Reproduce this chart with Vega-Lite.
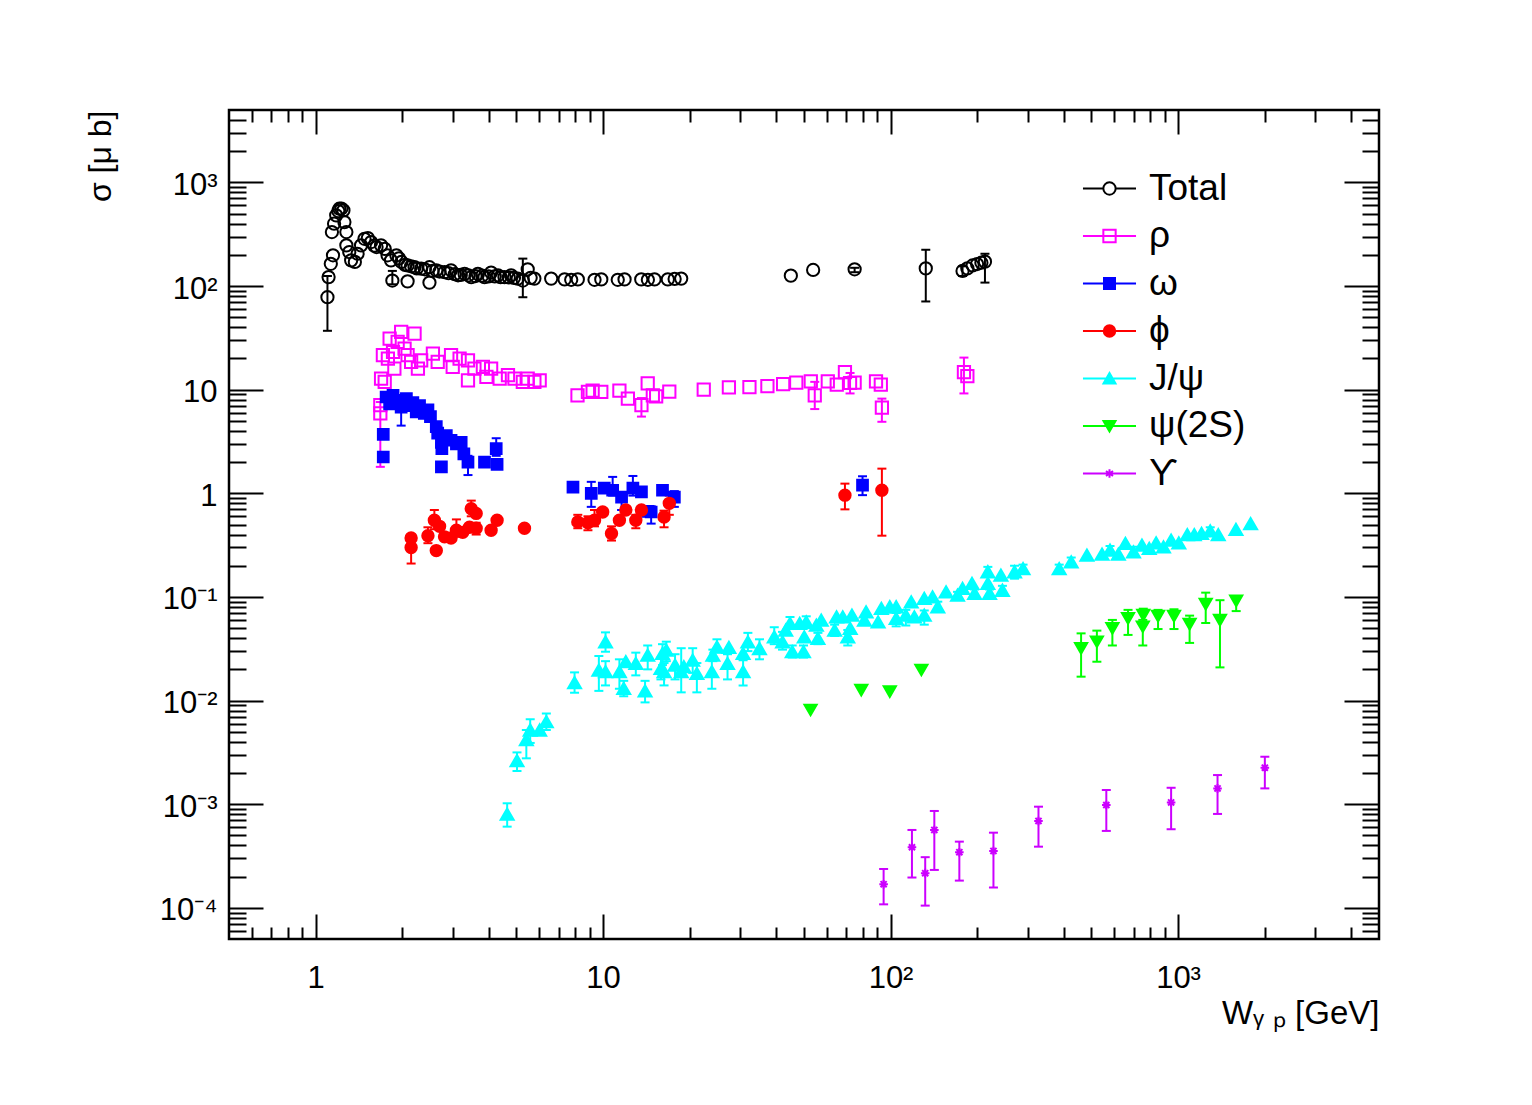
{
  "$schema": "https://vega.github.io/schema/vega-lite/v6.json",
  "width": 1150,
  "height": 829,
  "autosize": {"type": "none"},
  "padding": {"left": 229, "top": 110, "right": 153, "bottom": 166},
  "background": "white",
  "config": {
    "view": {"stroke": "black", "strokeWidth": 2.5},
    "font": "Liberation Sans",
    "axis": {
      "grid": false,
      "domain": false,
      "tickColor": "black",
      "tickWidth": 2,
      "labelColor": "black",
      "titleColor": "black",
      "labelFont": "Liberation Sans",
      "titleFont": "Liberation Sans",
      "titleFontWeight": "normal",
      "labelFlush": false,
      "labelOverlap": false
    }
  },
  "datasets": {
    "pts": [
      {"s": "Total", "w": 1.10, "v": 78, "lo": 37, "hi": 125},
      {"s": "Total", "w": 1.11, "v": 122},
      {"s": "Total", "w": 1.13, "v": 164},
      {"s": "Total", "w": 1.15, "v": 198},
      {"s": "Total", "w": 1.14, "v": 332},
      {"s": "Total", "w": 1.16, "v": 400},
      {"s": "Total", "w": 1.18, "v": 481},
      {"s": "Total", "w": 1.20, "v": 530},
      {"s": "Total", "w": 1.21, "v": 558},
      {"s": "Total", "w": 1.23, "v": 560},
      {"s": "Total", "w": 1.25, "v": 537},
      {"s": "Total", "w": 1.26, "v": 414},
      {"s": "Total", "w": 1.28, "v": 332},
      {"s": "Total", "w": 1.28, "v": 247},
      {"s": "Total", "w": 1.31, "v": 213},
      {"s": "Total", "w": 1.33, "v": 177},
      {"s": "Total", "w": 1.37, "v": 171},
      {"s": "Total", "w": 1.40, "v": 205},
      {"s": "Total", "w": 1.44, "v": 247},
      {"s": "Total", "w": 1.48, "v": 286},
      {"s": "Total", "w": 1.52, "v": 290},
      {"s": "Total", "w": 1.56, "v": 266},
      {"s": "Total", "w": 1.60, "v": 245},
      {"s": "Total", "w": 1.63, "v": 238},
      {"s": "Total", "w": 1.69, "v": 247},
      {"s": "Total", "w": 1.74, "v": 229},
      {"s": "Total", "w": 1.78, "v": 198},
      {"s": "Total", "w": 1.83, "v": 177},
      {"s": "Total", "w": 1.85, "v": 113, "lo": 104, "hi": 140},
      {"s": "Total", "w": 1.91, "v": 198},
      {"s": "Total", "w": 1.95, "v": 185},
      {"s": "Total", "w": 1.99, "v": 171},
      {"s": "Total", "w": 2.05, "v": 160},
      {"s": "Total", "w": 2.09, "v": 111},
      {"s": "Total", "w": 2.09, "v": 158},
      {"s": "Total", "w": 2.15, "v": 155},
      {"s": "Total", "w": 2.21, "v": 152},
      {"s": "Total", "w": 2.25, "v": 148},
      {"s": "Total", "w": 2.33, "v": 147},
      {"s": "Total", "w": 2.40, "v": 145},
      {"s": "Total", "w": 2.49, "v": 108},
      {"s": "Total", "w": 2.49, "v": 152},
      {"s": "Total", "w": 2.55, "v": 140},
      {"s": "Total", "w": 2.63, "v": 142},
      {"s": "Total", "w": 2.70, "v": 138},
      {"s": "Total", "w": 2.81, "v": 136},
      {"s": "Total", "w": 2.90, "v": 133},
      {"s": "Total", "w": 2.96, "v": 142},
      {"s": "Total", "w": 3.05, "v": 130},
      {"s": "Total", "w": 3.13, "v": 127},
      {"s": "Total", "w": 3.20, "v": 128},
      {"s": "Total", "w": 3.30, "v": 131},
      {"s": "Total", "w": 3.40, "v": 127},
      {"s": "Total", "w": 3.48, "v": 122},
      {"s": "Total", "w": 3.60, "v": 125},
      {"s": "Total", "w": 3.67, "v": 131},
      {"s": "Total", "w": 3.80, "v": 126},
      {"s": "Total", "w": 3.87, "v": 122},
      {"s": "Total", "w": 4.00, "v": 124},
      {"s": "Total", "w": 4.08, "v": 135},
      {"s": "Total", "w": 4.20, "v": 124},
      {"s": "Total", "w": 4.31, "v": 127},
      {"s": "Total", "w": 4.40, "v": 122},
      {"s": "Total", "w": 4.54, "v": 122},
      {"s": "Total", "w": 4.70, "v": 121},
      {"s": "Total", "w": 4.79, "v": 127},
      {"s": "Total", "w": 4.90, "v": 120},
      {"s": "Total", "w": 5.05, "v": 118},
      {"s": "Total", "w": 5.26, "v": 113, "lo": 78, "hi": 184},
      {"s": "Total", "w": 5.47, "v": 145},
      {"s": "Total", "w": 5.60, "v": 120},
      {"s": "Total", "w": 5.77, "v": 118},
      {"s": "Total", "w": 6.60, "v": 118},
      {"s": "Total", "w": 7.35, "v": 116},
      {"s": "Total", "w": 7.75, "v": 115},
      {"s": "Total", "w": 8.17, "v": 116},
      {"s": "Total", "w": 9.34, "v": 115},
      {"s": "Total", "w": 9.86, "v": 116},
      {"s": "Total", "w": 11.25, "v": 115},
      {"s": "Total", "w": 11.88, "v": 116},
      {"s": "Total", "w": 13.58, "v": 116},
      {"s": "Total", "w": 14.32, "v": 115},
      {"s": "Total", "w": 15.1, "v": 116},
      {"s": "Total", "w": 16.8, "v": 116},
      {"s": "Total", "w": 17.74, "v": 117},
      {"s": "Total", "w": 18.7, "v": 118},
      {"s": "Total", "w": 45.0, "v": 126},
      {"s": "Total", "w": 53.8, "v": 143},
      {"s": "Total", "w": 75.0, "v": 145, "lo": 136, "hi": 150},
      {"s": "Total", "w": 132.6, "v": 148, "lo": 71, "hi": 224},
      {"s": "Total", "w": 178, "v": 140, "lo": 125, "hi": 155},
      {"s": "Total", "w": 185, "v": 148},
      {"s": "Total", "w": 193, "v": 158},
      {"s": "Total", "w": 200, "v": 163},
      {"s": "Total", "w": 207, "v": 168},
      {"s": "Total", "w": 213, "v": 172, "lo": 108, "hi": 205},

      {"s": "ρ", "w": 1.68, "v": 7.1},
      {"s": "ρ", "w": 1.68, "v": 5.9, "lo": 1.8, "hi": 7.6},
      {"s": "ρ", "w": 1.69, "v": 12.8},
      {"s": "ρ", "w": 1.74, "v": 11.9},
      {"s": "ρ", "w": 1.715, "v": 21.5},
      {"s": "ρ", "w": 1.785, "v": 19.9},
      {"s": "ρ", "w": 1.81, "v": 31.1},
      {"s": "ρ", "w": 1.86, "v": 23.1},
      {"s": "ρ", "w": 1.88, "v": 16.0},
      {"s": "ρ", "w": 1.93, "v": 28.9},
      {"s": "ρ", "w": 1.985, "v": 36.1},
      {"s": "ρ", "w": 2.04, "v": 24.9},
      {"s": "ρ", "w": 2.09, "v": 21.5},
      {"s": "ρ", "w": 2.21, "v": 34.7},
      {"s": "ρ", "w": 2.15, "v": 18.5},
      {"s": "ρ", "w": 2.27, "v": 16.0},
      {"s": "ρ", "w": 2.33, "v": 19.2},
      {"s": "ρ", "w": 2.56, "v": 22.3},
      {"s": "ρ", "w": 2.66, "v": 18.5},
      {"s": "ρ", "w": 2.96, "v": 21.5},
      {"s": "ρ", "w": 3.00, "v": 16.6},
      {"s": "ρ", "w": 3.17, "v": 19.9},
      {"s": "ρ", "w": 3.39, "v": 19.2},
      {"s": "ρ", "w": 3.39, "v": 12.3},
      {"s": "ρ", "w": 3.57, "v": 16.0},
      {"s": "ρ", "w": 3.82, "v": 16.6},
      {"s": "ρ", "w": 3.93, "v": 13.3},
      {"s": "ρ", "w": 4.08, "v": 16.0},
      {"s": "ρ", "w": 4.37, "v": 12.8},
      {"s": "ρ", "w": 4.67, "v": 13.8},
      {"s": "ρ", "w": 4.92, "v": 12.8},
      {"s": "ρ", "w": 5.26, "v": 11.9},
      {"s": "ρ", "w": 5.47, "v": 12.8},
      {"s": "ρ", "w": 5.77, "v": 11.9},
      {"s": "ρ", "w": 6.02, "v": 12.3},
      {"s": "ρ", "w": 8.15, "v": 8.8},
      {"s": "ρ", "w": 8.86, "v": 9.5},
      {"s": "ρ", "w": 9.2, "v": 9.8},
      {"s": "ρ", "w": 9.86, "v": 9.5},
      {"s": "ρ", "w": 11.4, "v": 9.8},
      {"s": "ρ", "w": 12.2, "v": 8.2},
      {"s": "ρ", "w": 13.6, "v": 7.1, "lo": 5.5, "hi": 8.3},
      {"s": "ρ", "w": 14.3, "v": 11.5},
      {"s": "ρ", "w": 14.9, "v": 8.8},
      {"s": "ρ", "w": 15.3, "v": 8.6},
      {"s": "ρ", "w": 17.0, "v": 9.6},
      {"s": "ρ", "w": 22.4, "v": 10.0},
      {"s": "ρ", "w": 27.4, "v": 10.5},
      {"s": "ρ", "w": 32.3, "v": 10.6},
      {"s": "ρ", "w": 37.3, "v": 10.8},
      {"s": "ρ", "w": 42.3, "v": 11.3},
      {"s": "ρ", "w": 47.0, "v": 11.7},
      {"s": "ρ", "w": 52.8, "v": 12.0},
      {"s": "ρ", "w": 54.5, "v": 8.8, "lo": 6.5, "hi": 11.9},
      {"s": "ρ", "w": 60.5, "v": 12.0},
      {"s": "ρ", "w": 65, "v": 11.2},
      {"s": "ρ", "w": 69.4, "v": 14.8},
      {"s": "ρ", "w": 72.3, "v": 11.6, "lo": 9.2, "hi": 14.5},
      {"s": "ρ", "w": 75, "v": 11.7},
      {"s": "ρ", "w": 89, "v": 12.0},
      {"s": "ρ", "w": 92.5, "v": 11.2},
      {"s": "ρ", "w": 93.3, "v": 6.7, "lo": 4.9, "hi": 8.2},
      {"s": "ρ", "w": 180, "v": 14.8, "lo": 9.2, "hi": 20.4},
      {"s": "ρ", "w": 185, "v": 13.5},

      {"s": "ω", "w": 1.72, "v": 2.24},
      {"s": "ω", "w": 1.72, "v": 3.7},
      {"s": "ω", "w": 1.76, "v": 8.5},
      {"s": "ω", "w": 1.81, "v": 7.3},
      {"s": "ω", "w": 1.86, "v": 8.8},
      {"s": "ω", "w": 1.91, "v": 7.9},
      {"s": "ω", "w": 1.985, "v": 6.8, "lo": 4.5, "hi": 7.6},
      {"s": "ω", "w": 2.07, "v": 8.2, "lo": 7.4, "hi": 9.0},
      {"s": "ω", "w": 2.12, "v": 7.0},
      {"s": "ω", "w": 2.18, "v": 7.5},
      {"s": "ω", "w": 2.24, "v": 6.1},
      {"s": "ω", "w": 2.30, "v": 7.0},
      {"s": "ω", "w": 2.39, "v": 5.9},
      {"s": "ω", "w": 2.46, "v": 6.4},
      {"s": "ω", "w": 2.51, "v": 5.5},
      {"s": "ω", "w": 2.63, "v": 4.4},
      {"s": "ω", "w": 2.66, "v": 3.8},
      {"s": "ω", "w": 2.74, "v": 3.1},
      {"s": "ω", "w": 2.75, "v": 2.7},
      {"s": "ω", "w": 2.74, "v": 1.8},
      {"s": "ω", "w": 2.85, "v": 3.6},
      {"s": "ω", "w": 2.96, "v": 3.25},
      {"s": "ω", "w": 3.09, "v": 3.0},
      {"s": "ω", "w": 3.21, "v": 3.1},
      {"s": "ω", "w": 3.28, "v": 2.4},
      {"s": "ω", "w": 3.39, "v": 2.0, "lo": 1.5, "hi": 2.3},
      {"s": "ω", "w": 3.87, "v": 2.0},
      {"s": "ω", "w": 4.25, "v": 2.7, "lo": 2.3, "hi": 3.4},
      {"s": "ω", "w": 4.28, "v": 1.9},
      {"s": "ω", "w": 7.86, "v": 1.15},
      {"s": "ω", "w": 9.1, "v": 1.0, "lo": 0.74, "hi": 1.29},
      {"s": "ω", "w": 10.1, "v": 1.12},
      {"s": "ω", "w": 10.8, "v": 1.07, "lo": 0.95, "hi": 1.44},
      {"s": "ω", "w": 11.6, "v": 0.92, "lo": 0.69, "hi": 1.0},
      {"s": "ω", "w": 12.7, "v": 1.12, "lo": 0.95, "hi": 1.47},
      {"s": "ω", "w": 13.6, "v": 1.03},
      {"s": "ω", "w": 14.3, "v": 0.67},
      {"s": "ω", "w": 14.7, "v": 0.66, "lo": 0.51, "hi": 0.75},
      {"s": "ω", "w": 16.1, "v": 1.07},
      {"s": "ω", "w": 17.7, "v": 0.92, "lo": 0.74, "hi": 1.05},
      {"s": "ω", "w": 79.9, "v": 1.2, "lo": 0.96, "hi": 1.46},

      {"s": "ϕ", "w": 2.15, "v": 0.37},
      {"s": "ϕ", "w": 2.15, "v": 0.30, "lo": 0.21, "hi": 0.35},
      {"s": "ϕ", "w": 2.46, "v": 0.39, "lo": 0.33, "hi": 0.47},
      {"s": "ϕ", "w": 2.59, "v": 0.55, "lo": 0.45, "hi": 0.69},
      {"s": "ϕ", "w": 2.63, "v": 0.28},
      {"s": "ϕ", "w": 2.70, "v": 0.48},
      {"s": "ϕ", "w": 2.81, "v": 0.38},
      {"s": "ϕ", "w": 2.96, "v": 0.37},
      {"s": "ϕ", "w": 3.09, "v": 0.44, "lo": 0.38, "hi": 0.56},
      {"s": "ϕ", "w": 3.25, "v": 0.42},
      {"s": "ϕ", "w": 3.43, "v": 0.47},
      {"s": "ϕ", "w": 3.48, "v": 0.71, "lo": 0.6, "hi": 0.85},
      {"s": "ϕ", "w": 3.62, "v": 0.64},
      {"s": "ϕ", "w": 3.62, "v": 0.46, "lo": 0.40, "hi": 0.52},
      {"s": "ϕ", "w": 4.08, "v": 0.44},
      {"s": "ϕ", "w": 4.28, "v": 0.55},
      {"s": "ϕ", "w": 5.33, "v": 0.46},
      {"s": "ϕ", "w": 8.17, "v": 0.53, "lo": 0.46, "hi": 0.62},
      {"s": "ϕ", "w": 8.86, "v": 0.52, "lo": 0.44, "hi": 0.60},
      {"s": "ϕ", "w": 9.34, "v": 0.55, "lo": 0.48, "hi": 0.69},
      {"s": "ϕ", "w": 9.97, "v": 0.66},
      {"s": "ϕ", "w": 10.7, "v": 0.41, "lo": 0.35, "hi": 0.48},
      {"s": "ϕ", "w": 11.4, "v": 0.55},
      {"s": "ϕ", "w": 12.0, "v": 0.69},
      {"s": "ϕ", "w": 13.0, "v": 0.55, "lo": 0.46, "hi": 0.62},
      {"s": "ϕ", "w": 13.6, "v": 0.69},
      {"s": "ϕ", "w": 16.3, "v": 0.59, "lo": 0.47, "hi": 0.68},
      {"s": "ϕ", "w": 17.0, "v": 0.80, "lo": 0.62, "hi": 0.95},
      {"s": "ϕ", "w": 69.4, "v": 0.96, "lo": 0.70, "hi": 1.24},
      {"s": "ϕ", "w": 93.3, "v": 1.07, "lo": 0.39, "hi": 1.73},

      {"s": "J/ψ", "w": 4.64, "v": 0.0008, "lo": 0.000607, "hi": 0.00102},
      {"s": "J/ψ", "w": 5.02, "v": 0.00263, "lo": 0.00209, "hi": 0.00316},
      {"s": "J/ψ", "w": 5.41, "v": 0.0042, "lo": 0.00277, "hi": 0.0052},
      {"s": "J/ψ", "w": 5.58, "v": 0.0052, "lo": 0.0039, "hi": 0.0066},
      {"s": "J/ψ", "w": 6.02, "v": 0.0052},
      {"s": "J/ψ", "w": 6.35, "v": 0.00625, "lo": 0.0052, "hi": 0.0075},
      {"s": "J/ψ", "w": 7.96, "v": 0.0149, "lo": 0.0119, "hi": 0.0187},
      {"s": "J/ψ", "w": 9.67, "v": 0.0197, "lo": 0.0124, "hi": 0.0269},
      {"s": "J/ψ", "w": 10.2, "v": 0.0369, "lo": 0.0296, "hi": 0.0455},
      {"s": "J/ψ", "w": 10.2, "v": 0.019, "lo": 0.014, "hi": 0.024},
      {"s": "J/ψ", "w": 11.4, "v": 0.019, "lo": 0.013, "hi": 0.025},
      {"s": "J/ψ", "w": 11.8, "v": 0.0131, "lo": 0.011, "hi": 0.0155},
      {"s": "J/ψ", "w": 12.0, "v": 0.0237},
      {"s": "J/ψ", "w": 13.0, "v": 0.0228, "lo": 0.0175, "hi": 0.029},
      {"s": "J/ψ", "w": 14.0, "v": 0.0124, "lo": 0.0096, "hi": 0.0155},
      {"s": "J/ψ", "w": 14.3, "v": 0.0275, "lo": 0.02, "hi": 0.034},
      {"s": "J/ψ", "w": 15.9, "v": 0.0204, "lo": 0.016, "hi": 0.026},
      {"s": "J/ψ", "w": 16.1, "v": 0.0285, "lo": 0.022, "hi": 0.035},
      {"s": "J/ψ", "w": 16.6, "v": 0.0307, "lo": 0.024, "hi": 0.037},
      {"s": "J/ψ", "w": 16.3, "v": 0.019, "lo": 0.014, "hi": 0.023},
      {"s": "J/ψ", "w": 17.8, "v": 0.022, "lo": 0.016, "hi": 0.028},
      {"s": "J/ψ", "w": 18.7, "v": 0.019, "lo": 0.012, "hi": 0.032},
      {"s": "J/ψ", "w": 19.1, "v": 0.0213},
      {"s": "J/ψ", "w": 20.5, "v": 0.0246, "lo": 0.0185, "hi": 0.032},
      {"s": "J/ψ", "w": 21.2, "v": 0.0183, "lo": 0.012, "hi": 0.023},
      {"s": "J/ψ", "w": 24.1, "v": 0.0275, "lo": 0.024, "hi": 0.031},
      {"s": "J/ψ", "w": 23.9, "v": 0.019, "lo": 0.013, "hi": 0.0245},
      {"s": "J/ψ", "w": 24.9, "v": 0.033, "lo": 0.029, "hi": 0.039},
      {"s": "J/ψ", "w": 27.1, "v": 0.0228, "lo": 0.016, "hi": 0.028},
      {"s": "J/ψ", "w": 27.4, "v": 0.0326},
      {"s": "J/ψ", "w": 30.7, "v": 0.019, "lo": 0.014, "hi": 0.0245},
      {"s": "J/ψ", "w": 30.7, "v": 0.0285},
      {"s": "J/ψ", "w": 31.9, "v": 0.0369, "lo": 0.03, "hi": 0.045},
      {"s": "J/ψ", "w": 35.0, "v": 0.0318, "lo": 0.025, "hi": 0.039},
      {"s": "J/ψ", "w": 39.4, "v": 0.0412, "lo": 0.035, "hi": 0.051},
      {"s": "J/ψ", "w": 42.1, "v": 0.0369, "lo": 0.031, "hi": 0.046},
      {"s": "J/ψ", "w": 43.2, "v": 0.0479},
      {"s": "J/ψ", "w": 45.5, "v": 0.0296, "lo": 0.026, "hi": 0.034},
      {"s": "J/ψ", "w": 44.7, "v": 0.0555, "lo": 0.049, "hi": 0.064},
      {"s": "J/ψ", "w": 48.3, "v": 0.0555},
      {"s": "J/ψ", "w": 49.8, "v": 0.0296, "lo": 0.026, "hi": 0.034},
      {"s": "J/ψ", "w": 50.1, "v": 0.0412},
      {"s": "J/ψ", "w": 50.9, "v": 0.0575, "lo": 0.05, "hi": 0.065},
      {"s": "J/ψ", "w": 55.2, "v": 0.0535},
      {"s": "J/ψ", "w": 55.9, "v": 0.0398, "lo": 0.035, "hi": 0.045},
      {"s": "J/ψ", "w": 57.4, "v": 0.0597},
      {"s": "J/ψ", "w": 64.9, "v": 0.0643},
      {"s": "J/ψ", "w": 63.9, "v": 0.0479, "lo": 0.042, "hi": 0.054},
      {"s": "J/ψ", "w": 68.2, "v": 0.0643},
      {"s": "J/ψ", "w": 71.0, "v": 0.0412, "lo": 0.034, "hi": 0.048},
      {"s": "J/ψ", "w": 73.4, "v": 0.0668},
      {"s": "J/ψ", "w": 72.4, "v": 0.0497},
      {"s": "J/ψ", "w": 82.2, "v": 0.0718},
      {"s": "J/ψ", "w": 81.1, "v": 0.0597},
      {"s": "J/ψ", "w": 90.5, "v": 0.0575},
      {"s": "J/ψ", "w": 92.9, "v": 0.0775},
      {"s": "J/ψ", "w": 99.4, "v": 0.0804},
      {"s": "J/ψ", "w": 104.6, "v": 0.0804},
      {"s": "J/ψ", "w": 104.6, "v": 0.062, "lo": 0.052, "hi": 0.07},
      {"s": "J/ψ", "w": 113, "v": 0.0668, "lo": 0.053, "hi": 0.075},
      {"s": "J/ψ", "w": 118, "v": 0.0897},
      {"s": "J/ψ", "w": 121, "v": 0.0643},
      {"s": "J/ψ", "w": 131, "v": 0.0967},
      {"s": "J/ψ", "w": 131, "v": 0.0668, "lo": 0.054, "hi": 0.074},
      {"s": "J/ψ", "w": 140, "v": 0.1},
      {"s": "J/ψ", "w": 146, "v": 0.0804, "lo": 0.072, "hi": 0.09},
      {"s": "J/ψ", "w": 156, "v": 0.112},
      {"s": "J/ψ", "w": 171, "v": 0.104, "lo": 0.095, "hi": 0.112},
      {"s": "J/ψ", "w": 178, "v": 0.121},
      {"s": "J/ψ", "w": 192, "v": 0.135},
      {"s": "J/ψ", "w": 196, "v": 0.108, "lo": 0.098, "hi": 0.118},
      {"s": "J/ψ", "w": 218, "v": 0.175, "lo": 0.16, "hi": 0.195},
      {"s": "J/ψ", "w": 218, "v": 0.135},
      {"s": "J/ψ", "w": 221, "v": 0.108, "lo": 0.098, "hi": 0.118},
      {"s": "J/ψ", "w": 242, "v": 0.162},
      {"s": "J/ψ", "w": 245, "v": 0.116, "lo": 0.105, "hi": 0.128},
      {"s": "J/ψ", "w": 270, "v": 0.175, "lo": 0.15, "hi": 0.2},
      {"s": "J/ψ", "w": 289, "v": 0.188, "lo": 0.17, "hi": 0.205},
      {"s": "J/ψ", "w": 386, "v": 0.188, "lo": 0.17, "hi": 0.205},
      {"s": "J/ψ", "w": 425, "v": 0.218, "lo": 0.195, "hi": 0.24},
      {"s": "J/ψ", "w": 482, "v": 0.253},
      {"s": "J/ψ", "w": 544, "v": 0.259},
      {"s": "J/ψ", "w": 580, "v": 0.283, "lo": 0.26, "hi": 0.31},
      {"s": "J/ψ", "w": 620, "v": 0.259},
      {"s": "J/ψ", "w": 656, "v": 0.328},
      {"s": "J/ψ", "w": 700, "v": 0.272, "lo": 0.25, "hi": 0.305},
      {"s": "J/ψ", "w": 749, "v": 0.316},
      {"s": "J/ψ", "w": 794, "v": 0.294},
      {"s": "J/ψ", "w": 839, "v": 0.333},
      {"s": "J/ψ", "w": 890, "v": 0.304},
      {"s": "J/ψ", "w": 946, "v": 0.353},
      {"s": "J/ψ", "w": 1006, "v": 0.333},
      {"s": "J/ψ", "w": 1077, "v": 0.40},
      {"s": "J/ψ", "w": 1139, "v": 0.40},
      {"s": "J/ψ", "w": 1207, "v": 0.41},
      {"s": "J/ψ", "w": 1294, "v": 0.434, "lo": 0.40, "hi": 0.47},
      {"s": "J/ψ", "w": 1380, "v": 0.40},
      {"s": "J/ψ", "w": 1590, "v": 0.448},
      {"s": "J/ψ", "w": 1788, "v": 0.51},

      {"s": "ψ(2S)", "w": 52.7, "v": 0.0081},
      {"s": "ψ(2S)", "w": 79.1, "v": 0.0126},
      {"s": "ψ(2S)", "w": 99.4, "v": 0.0122},
      {"s": "ψ(2S)", "w": 128, "v": 0.0197},
      {"s": "ψ(2S)", "w": 460, "v": 0.0319, "lo": 0.017, "hi": 0.0445},
      {"s": "ψ(2S)", "w": 522, "v": 0.0369, "lo": 0.0237, "hi": 0.0473},
      {"s": "ψ(2S)", "w": 591, "v": 0.0497, "lo": 0.034, "hi": 0.06},
      {"s": "ψ(2S)", "w": 670, "v": 0.0621, "lo": 0.043, "hi": 0.075},
      {"s": "ψ(2S)", "w": 757, "v": 0.0668, "lo": 0.055, "hi": 0.077},
      {"s": "ψ(2S)", "w": 754, "v": 0.0515, "lo": 0.034, "hi": 0.06},
      {"s": "ψ(2S)", "w": 852, "v": 0.0653, "lo": 0.049, "hi": 0.075},
      {"s": "ψ(2S)", "w": 968, "v": 0.0653, "lo": 0.049, "hi": 0.076},
      {"s": "ψ(2S)", "w": 1097, "v": 0.0547, "lo": 0.036, "hi": 0.066},
      {"s": "ψ(2S)", "w": 1248, "v": 0.0853, "lo": 0.056, "hi": 0.11},
      {"s": "ψ(2S)", "w": 1399, "v": 0.0597, "lo": 0.0209, "hi": 0.093},
      {"s": "ψ(2S)", "w": 1593, "v": 0.0917, "lo": 0.073, "hi": 0.101},

      {"s": "ϒ", "w": 94.6, "v": 0.000169, "lo": 0.000108, "hi": 0.000237},
      {"s": "ϒ", "w": 118.7, "v": 0.000384, "lo": 0.000196, "hi": 0.000564},
      {"s": "ϒ", "w": 132, "v": 0.000216, "lo": 0.000105, "hi": 0.000308},
      {"s": "ϒ", "w": 142, "v": 0.000564, "lo": 0.000232, "hi": 0.00086},
      {"s": "ϒ", "w": 173.5, "v": 0.000344, "lo": 0.000183, "hi": 0.000435},
      {"s": "ϒ", "w": 228, "v": 0.000354, "lo": 0.000157, "hi": 0.000531},
      {"s": "ϒ", "w": 327, "v": 0.000689, "lo": 0.000389, "hi": 0.000946},
      {"s": "ϒ", "w": 563, "v": 0.000982, "lo": 0.000552, "hi": 0.00137},
      {"s": "ϒ", "w": 946, "v": 0.00104, "lo": 0.000573, "hi": 0.00144},
      {"s": "ϒ", "w": 1372, "v": 0.00142, "lo": 0.000805, "hi": 0.00191},
      {"s": "ϒ", "w": 2004, "v": 0.00225, "lo": 0.00142, "hi": 0.00287}
    ]
  },
  "data": {"name": "pts"},
  "layer": [
    {
      "transform": [{"filter": "isValid(datum.lo)"}],
      "mark": {"type": "rule", "strokeWidth": 2, "opacity": 1},
      "encoding": {
        "x": {
          "field": "w", "type": "quantitative",
          "scale": {"type": "log", "domain": [0.5, 5000], "nice": false},
          "axis": {
            "orient": "bottom", "values": [1, 10, 100, 1000], "tickSize": -25,
            "labelExpr": "datum.value == 1 ? '1' : datum.value == 10 ? '10' : datum.value == 100 ? '10²' : '10³'",
            "labelFontSize": 31, "labelPadding": 49,
            "title": "Wᵧ ₚ [GeV]", "titleFontSize": 33,
            "titleX": 1150, "titleY": 84, "titleAlign": "right", "titleBaseline": "alphabetic"
          }
        },
        "y": {
          "field": "lo", "type": "quantitative",
          "scale": {"type": "log", "domain": [0.00005, 5000], "nice": false},
          "axis": {
            "orient": "left", "values": [0.0001, 0.001, 0.01, 0.1, 1, 10, 100, 1000], "tickSize": -34,
            "labelExpr": "datum.value > 500 ? '10³' : datum.value > 50 ? '10²' : datum.value > 5 ? '10' : datum.value > 0.5 ? '1' : datum.value > 0.05 ? '10⁻¹' : datum.value > 0.005 ? '10⁻²' : datum.value > 0.0005 ? '10⁻³' : '10⁻⁴'",
            "labelFontSize": 31, "labelPadding": 46, "labelOffset": 3, "labelBaseline": "middle",
            "title": "σ [μ b]", "titleFontSize": 32,
            "titleX": -129, "titleY": 0, "titleAngle": -90, "titleAlign": "right", "titleBaseline": "middle"
          }
        },
        "y2": {"field": "hi"},
        "color": {
          "field": "s", "type": "nominal", "legend": null,
          "scale": {
            "domain": ["Total", "ρ", "ω", "ϕ", "J/ψ", "ψ(2S)", "ϒ", "-"],
            "range": ["#000000", "#ff00ff", "#0000ff", "#ff0000", "#00ffff", "#00ff00", "#cc00ff", "#000000"]
          }
        }
      }
    },
    {
      "transform": [{"filter": "isValid(datum.lo)"}],
      "mark": {"type": "tick", "orient": "horizontal", "size": 9, "thickness": 2, "opacity": 1},
      "encoding": {
        "x": {
          "field": "w", "type": "quantitative",
          "scale": {"type": "log", "domain": [0.5, 5000], "nice": false},
          "axis": {
            "orient": "bottom", "tickSize": -12, "labels": false, "title": null,
            "values": [0.6, 0.7, 0.8, 0.9, 2, 3, 4, 5, 6, 7, 8, 9, 20, 30, 40, 50, 60, 70, 80, 90, 200, 300, 400, 500, 600, 700, 800, 900, 2000, 3000, 4000]
          }
        },
        "y": {
          "field": "lo", "type": "quantitative",
          "scale": {"type": "log", "domain": [0.00005, 5000], "nice": false},
          "axis": {
            "orient": "left", "tickSize": -17, "labels": false, "title": null,
            "values": [0.00006, 0.00007, 0.00008, 0.00009, 0.0002, 0.0003, 0.0004, 0.0005, 0.0006, 0.0007, 0.0008, 0.0009, 0.002, 0.003, 0.004, 0.005, 0.006, 0.007, 0.008, 0.009, 0.02, 0.03, 0.04, 0.05, 0.06, 0.07, 0.08, 0.09, 0.2, 0.3, 0.4, 0.5, 0.6, 0.7, 0.8, 0.9, 2, 3, 4, 5, 6, 7, 8, 9, 20, 30, 40, 50, 60, 70, 80, 90, 200, 300, 400, 500, 600, 700, 800, 900, 2000, 3000, 4000]
          }
        },
        "color": {
          "field": "s", "type": "nominal", "legend": null,
          "scale": {
            "domain": ["Total", "ρ", "ω", "ϕ", "J/ψ", "ψ(2S)", "ϒ", "-"],
            "range": ["#000000", "#ff00ff", "#0000ff", "#ff0000", "#00ffff", "#00ff00", "#cc00ff", "#000000"]
          }
        }
      }
    },
    {
      "transform": [{"filter": "isValid(datum.hi)"}],
      "mark": {"type": "tick", "orient": "horizontal", "size": 9, "thickness": 2, "opacity": 1},
      "encoding": {
        "x": {
          "field": "w", "type": "quantitative",
          "scale": {"type": "log", "domain": [0.5, 5000], "nice": false},
          "axis": {"orient": "top", "values": [1, 10, 100, 1000], "tickSize": -24, "labels": false, "title": null}
        },
        "y": {
          "field": "hi", "type": "quantitative",
          "scale": {"type": "log", "domain": [0.00005, 5000], "nice": false},
          "axis": {"orient": "right", "values": [0.0001, 0.001, 0.01, 0.1, 1, 10, 100, 1000], "tickSize": -35, "labels": false, "title": null}
        },
        "color": {
          "field": "s", "type": "nominal", "legend": null,
          "scale": {
            "domain": ["Total", "ρ", "ω", "ϕ", "J/ψ", "ψ(2S)", "ϒ", "-"],
            "range": ["#000000", "#ff00ff", "#0000ff", "#ff0000", "#00ffff", "#00ff00", "#cc00ff", "#000000"]
          }
        }
      }
    },
    {
      "mark": {"type": "point", "filled": false, "opacity": 0, "strokeWidth": 2},
      "encoding": {
        "x": {
          "field": "w", "type": "quantitative",
          "scale": {"type": "log", "domain": [0.5, 5000], "nice": false},
          "axis": {
            "orient": "top", "tickSize": -12, "labels": false, "title": null,
            "values": [0.6, 0.7, 0.8, 0.9, 2, 3, 4, 5, 6, 7, 8, 9, 20, 30, 40, 50, 60, 70, 80, 90, 200, 300, 400, 500, 600, 700, 800, 900, 2000, 3000, 4000]
          }
        },
        "y": {
          "field": "v", "type": "quantitative",
          "scale": {"type": "log", "domain": [0.00005, 5000], "nice": false},
          "axis": {
            "orient": "right", "tickSize": -17, "labels": false, "title": null,
            "values": [0.00006, 0.00007, 0.00008, 0.00009, 0.0002, 0.0003, 0.0004, 0.0005, 0.0006, 0.0007, 0.0008, 0.0009, 0.002, 0.003, 0.004, 0.005, 0.006, 0.007, 0.008, 0.009, 0.02, 0.03, 0.04, 0.05, 0.06, 0.07, 0.08, 0.09, 0.2, 0.3, 0.4, 0.5, 0.6, 0.7, 0.8, 0.9, 2, 3, 4, 5, 6, 7, 8, 9, 20, 30, 40, 50, 60, 70, 80, 90, 200, 300, 400, 500, 600, 700, 800, 900, 2000, 3000, 4000]
          }
        },
        "stroke": {
          "field": "s", "type": "nominal",
          "scale": {
            "domain": ["Total", "ρ", "ω", "ϕ", "J/ψ", "ψ(2S)", "ϒ"],
            "range": ["#000000", "#ff00ff", "#0000ff", "#ff0000", "#00ffff", "#00ff00", "#cc00ff"]
          }
        },
        "shape": {
          "field": "s", "type": "nominal",
          "scale": {
            "domain": ["Total", "ρ", "ω", "ϕ", "J/ψ", "ψ(2S)", "ϒ"],
            "range": [
              "M-3.79,0H-0.88M0.88,0H3.79M0.88,0A0.88,0.88,0,1,1,-0.88,0A0.88,0.88,0,1,1,0.88,0Z",
              "M-3.79,0H3.79M-0.88,-0.88H0.88V0.88H-0.88Z",
              "M-3.79,0H3.79M-0.786,-0.786H0.786V0.786H-0.786ZM-0.786,-0.524H0.786M-0.786,-0.262H0.786M-0.786,0.262H0.786M-0.786,0.524H0.786",
              "M-3.79,0H3.79M0.82,0A0.82,0.82,0,1,1,-0.82,0A0.82,0.82,0,1,1,0.82,0ZM-0.778,-0.26H0.778M-0.778,0.26H0.778M-0.634,-0.52H0.634M-0.634,0.52H0.634",
              "M-3.79,0H3.79M0,-0.8L0.86,0.7L-0.86,0.7ZM-0.717,0.45H0.717M-0.573,0.2H0.573M-0.43,-0.05H0.43M-0.287,-0.3H0.287M-0.143,-0.55H0.143",
              "M-3.79,0H3.79M0,0.8L0.86,-0.7L-0.86,-0.7ZM-0.717,-0.45H0.717M-0.573,-0.2H0.573M-0.43,0.05H0.43M-0.287,0.3H0.287M-0.143,0.55H0.143",
              "M-3.79,0H3.79M0,-0.6V0.6M-0.5,-0.35L0.5,0.35M-0.5,0.35L0.5,-0.35"
            ]
          },
          "legend": {
            "orient": "none", "legendX": 862, "legendY": 60, "title": null, "padding": 0,
            "labelFont": "Liberation Sans", "labelFontSize": 37, "labelColor": "black",
            "labelOffset": 21, "labelBaseline": "middle", "rowPadding": 9.5,
            "symbolSize": 196, "symbolStrokeWidth": 2, "symbolOpacity": 1,
            "symbolFillColor": "transparent"
          }
        }
      }
    },
    {
      "transform": [{"filter": "datum.s == 'Total'"}],
      "mark": {"type": "point", "shape": "circle", "filled": false, "stroke": "#000000", "strokeWidth": 2, "size": 150, "opacity": 1},
      "encoding": {
        "x": {"field": "w", "type": "quantitative", "scale": {"type": "log", "domain": [0.5, 5000], "nice": false}, "axis": null},
        "y": {"field": "v", "type": "quantitative", "scale": {"type": "log", "domain": [0.00005, 5000], "nice": false}, "axis": null}
      }
    },
    {
      "transform": [{"filter": "datum.s == 'ρ'"}],
      "mark": {"type": "point", "shape": "square", "filled": false, "stroke": "#ff00ff", "strokeWidth": 2, "size": 150, "opacity": 1},
      "encoding": {
        "x": {"field": "w", "type": "quantitative", "scale": {"type": "log", "domain": [0.5, 5000], "nice": false}, "axis": null},
        "y": {"field": "v", "type": "quantitative", "scale": {"type": "log", "domain": [0.00005, 5000], "nice": false}, "axis": null}
      }
    },
    {
      "transform": [{"filter": "datum.s == 'ω'"}],
      "mark": {"type": "point", "shape": "square", "filled": true, "fill": "#0000ff", "stroke": "#0000ff", "strokeWidth": 2, "size": 115, "opacity": 1},
      "encoding": {
        "x": {"field": "w", "type": "quantitative", "scale": {"type": "log", "domain": [0.5, 5000], "nice": false}, "axis": null},
        "y": {"field": "v", "type": "quantitative", "scale": {"type": "log", "domain": [0.00005, 5000], "nice": false}, "axis": null}
      }
    },
    {
      "transform": [{"filter": "datum.s == 'ϕ'"}],
      "mark": {"type": "point", "shape": "circle", "filled": true, "fill": "#ff0000", "stroke": "#ff0000", "strokeWidth": 2, "size": 130, "opacity": 1},
      "encoding": {
        "x": {"field": "w", "type": "quantitative", "scale": {"type": "log", "domain": [0.5, 5000], "nice": false}, "axis": null},
        "y": {"field": "v", "type": "quantitative", "scale": {"type": "log", "domain": [0.00005, 5000], "nice": false}, "axis": null}
      }
    },
    {
      "transform": [{"filter": "datum.s == 'J/ψ'"}],
      "mark": {"type": "point", "shape": "triangle-up", "filled": true, "fill": "#00ffff", "stroke": "#00ffff", "strokeWidth": 2, "size": 170, "opacity": 1},
      "encoding": {
        "x": {"field": "w", "type": "quantitative", "scale": {"type": "log", "domain": [0.5, 5000], "nice": false}, "axis": null},
        "y": {"field": "v", "type": "quantitative", "scale": {"type": "log", "domain": [0.00005, 5000], "nice": false}, "axis": null}
      }
    },
    {
      "transform": [{"filter": "datum.s == 'ψ(2S)'"}],
      "mark": {"type": "point", "shape": "triangle-down", "filled": true, "fill": "#00ff00", "stroke": "#00ff00", "strokeWidth": 2, "size": 150, "opacity": 1},
      "encoding": {
        "x": {"field": "w", "type": "quantitative", "scale": {"type": "log", "domain": [0.5, 5000], "nice": false}, "axis": null},
        "y": {"field": "v", "type": "quantitative", "scale": {"type": "log", "domain": [0.00005, 5000], "nice": false}, "axis": null}
      }
    },
    {
      "transform": [{"filter": "datum.s == 'ϒ'"}],
      "mark": {"type": "point", "shape": "M-0.7,0H0.7M0,-0.7V0.7M-0.5,-0.5L0.5,0.5M-0.5,0.5L0.5,-0.5", "filled": false, "stroke": "#cc00ff", "strokeWidth": 2, "size": 150, "opacity": 1},
      "encoding": {
        "x": {"field": "w", "type": "quantitative", "scale": {"type": "log", "domain": [0.5, 5000], "nice": false}, "axis": null},
        "y": {"field": "v", "type": "quantitative", "scale": {"type": "log", "domain": [0.00005, 5000], "nice": false}, "axis": null}
      }
    }
  ],
  "resolve": {"axis": {"x": "independent", "y": "independent"}}
}
